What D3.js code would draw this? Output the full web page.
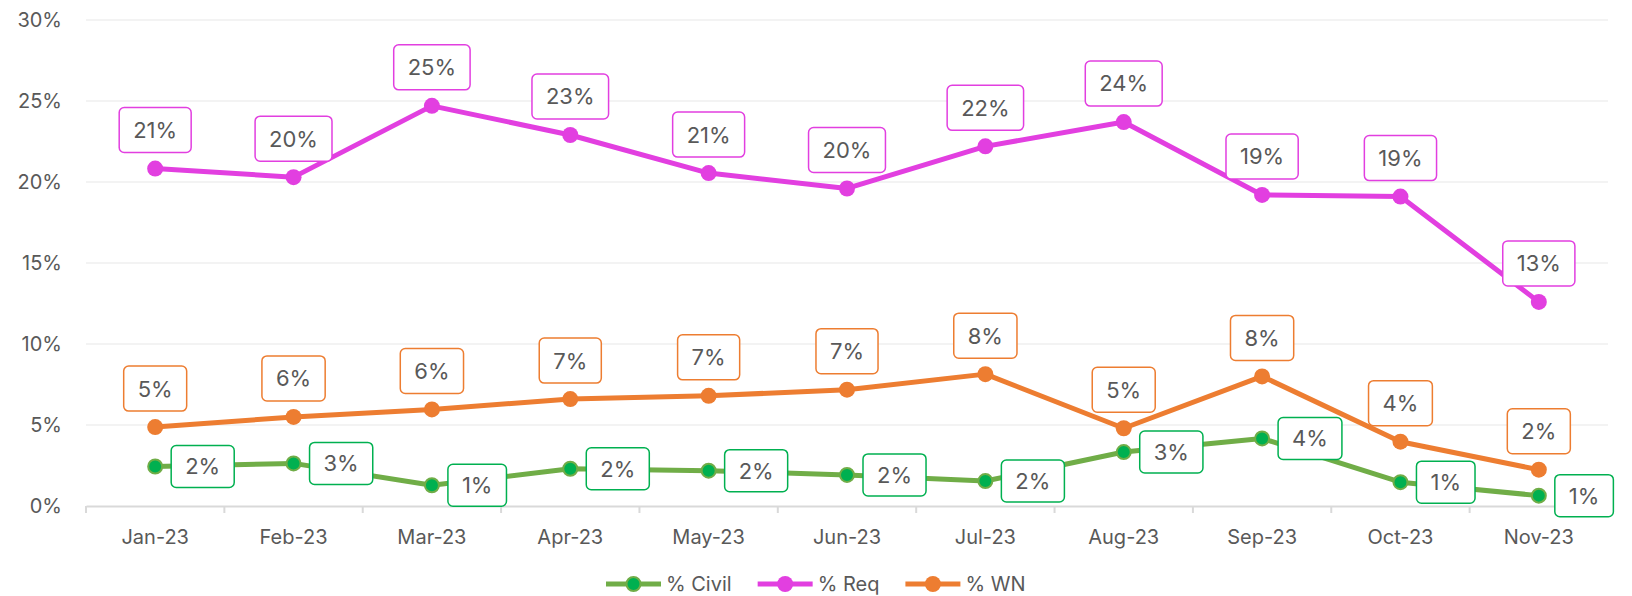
<!DOCTYPE html>
<html>
<head>
<meta charset="utf-8">
<script src="https://cdn.jsdelivr.net/npm/d3@7"></script>
<style>
  html, body { margin: 0; padding: 0; background: #fff; }
  svg text { font-family: Inter, "Open Sans", sans-serif; fill: #595959; }
</style>
</head>
<body>
<div id="chart"></div>
<script>
const months = ['Jan-23', 'Feb-23', 'Mar-23', 'Apr-23', 'May-23', 'Jun-23', 'Jul-23', 'Aug-23', 'Sep-23', 'Oct-23', 'Nov-23'];
const civil = [0.0244, 0.0263, 0.0128, 0.023, 0.0218, 0.0192, 0.0154, 0.0333, 0.0417, 0.0147, 0.0064];
const req = [0.2083, 0.203, 0.247, 0.229, 0.2055, 0.196, 0.222, 0.237, 0.192, 0.191, 0.126];
const wn = [0.0487, 0.055, 0.0596, 0.066, 0.068, 0.0718, 0.0814, 0.048, 0.080, 0.0397, 0.0224];
const yTicks = [0, 0.05, 0.1, 0.15, 0.2, 0.25, 0.3];

const width = 1632, height = 596;
const margin = { top: 20, right: 24, bottom: 90, left: 86 };

const series = [
  { name: '% Civil', values: civil, line: '#70AD47', dot: '#00B050', box: '#00B050', pos: 'right', r: 7 },
  { name: '% Req', values: req, line: '#E23FE0', dot: '#E23FE0', box: '#E23FE0', pos: 'top', r: 8 },
  { name: '% WN', values: wn, line: '#ED7D31', dot: '#ED7D31', box: '#ED7D31', pos: 'top', r: 8 }
];

const svg = d3.select('#chart')
  .append('svg')
  .attr('width', width)
  .attr('height', height);

const x = d3.scaleBand()
  .domain(months)
  .range([margin.left, width - margin.right])
  .padding(0);

const y = d3.scaleLinear()
  .domain([0, 0.3])
  .range([height - margin.bottom, margin.top]);

const fmt = d3.format('.0%');

// gridlines
svg.append('g')
  .selectAll('line')
  .data(yTicks.filter(d => d > 0))
  .enter()
  .append('line')
  .attr('x1', margin.left)
  .attr('x2', width - margin.right)
  .attr('y1', d => y(d))
  .attr('y2', d => y(d))
  .style('stroke', '#efefef')
  .style('stroke-width', 1.5);

// y labels
svg.append('g')
  .selectAll('text')
  .data(yTicks)
  .enter()
  .append('text')
  .attr('x', 62)
  .attr('y', d => y(d))
  .attr('dy', '0.36em')
  .attr('text-anchor', 'end')
  .style('font-size', '20px')
  .text(d => fmt(d));

// x axis
const xAxis = svg.append('g')
  .attr('transform', `translate(0, ${y(0)})`)
  .call(d3.axisBottom(x).tickSize(0).tickPadding(24));
xAxis.select('.domain').style('stroke', '#d9d9d9').style('stroke-width', 2);
xAxis.selectAll('text')
  .style('font-size', '20px')
  .style('font-family', 'Inter, sans-serif')
  .style('fill', '#595959');

// boundary ticks
svg.append('g')
  .selectAll('line')
  .data(months.concat(['end']))
  .enter()
  .append('line')
  .attr('x1', (d, i) => i < months.length ? x(d) : x.range()[1])
  .attr('x2', (d, i) => i < months.length ? x(d) : x.range()[1])
  .attr('y1', y(0))
  .attr('y2', y(0) + 7)
  .style('stroke', '#d9d9d9')
  .style('stroke-width', 2);

const cx = d => x(d) + x.bandwidth() / 2;

const line = d3.line()
  .x((d, i) => cx(months[i]))
  .y(d => y(d));

// lines and markers
series.forEach(s => {
  svg.append('path')
    .datum(s.values)
    .attr('d', line)
    .style('fill', 'none')
    .style('stroke', s.line)
    .style('stroke-width', 5)
    .style('stroke-linejoin', 'round');

  svg.append('g')
    .selectAll('circle')
    .data(s.values)
    .enter()
    .append('circle')
    .attr('cx', (d, i) => cx(months[i]))
    .attr('cy', d => y(d))
    .attr('r', s.r)
    .style('fill', s.dot)
    .style('stroke', s.line)
    .style('stroke-width', s.name === '% Civil' ? 2 : 0);
});

// data labels
series.forEach(s => {
  const g = svg.append('g');
  s.values.forEach((v, i) => {
    const px = cx(months[i]);
    const py = y(v);
    const lab = g.append('g');
    const rect = lab.append('rect');
    const t = lab.append('text')
      .attr('text-anchor', 'middle')
      .attr('dy', '0.36em')
      .style('font-size', '22px')
      .text(fmt(v));
    const w = t.node().getComputedTextLength() + 28;
    const h = s.pos === 'top' ? 45 : 42;
    let bx, by;
    if (s.pos === 'top') {
      bx = px - w / 2;
      by = py - 16 - h;
    } else {
      bx = px + 16;
      by = py - h / 2;
    }
    rect.attr('x', bx).attr('y', by)
      .attr('width', w).attr('height', h)
      .attr('rx', 5)
      .style('fill', '#fff')
      .style('stroke', s.box)
      .style('stroke-width', 1.5);
    t.attr('x', bx + w / 2).attr('y', by + h / 2);
  });
});

// legend
const legend = svg.append('g').attr('transform', `translate(606, 584)`);
let lx = 0;
series.forEach(s => {
  const item = legend.append('g').attr('transform', `translate(${lx}, 0)`);
  item.append('line')
    .attr('x1', 0).attr('x2', 55)
    .attr('y1', 0).attr('y2', 0)
    .style('stroke', s.line)
    .style('stroke-width', 5);
  item.append('circle')
    .attr('cx', 27.5).attr('cy', 0)
    .attr('r', s.r)
    .style('fill', s.dot)
    .style('stroke', s.line)
    .style('stroke-width', s.name === '% Civil' ? 2 : 0);
  const t = item.append('text')
    .attr('x', 60)
    .attr('dy', '0.36em')
    .style('font-size', '20px')
    .text(s.name);
  lx += 60 + t.node().getComputedTextLength() + 26;
});
</script>
</body>
</html>
